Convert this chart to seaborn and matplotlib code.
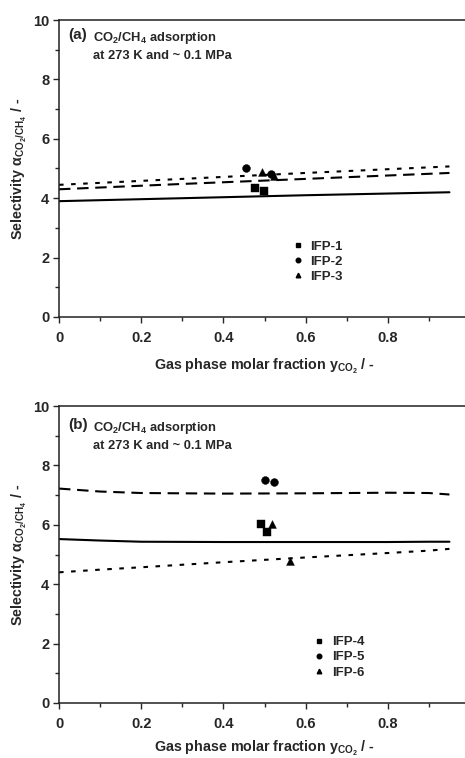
import numpy as np
import matplotlib
matplotlib.use("Agg")
import matplotlib.pyplot as plt
import seaborn as sns

sns.set_style("ticks")
plt.rcParams['font.family'] = ['Liberation Sans', 'DejaVu Sans']
plt.rcParams['font.weight'] = 'bold'
plt.rcParams['mathtext.fontset'] = 'custom'
plt.rcParams['mathtext.rm'] = 'Liberation Sans:bold'
plt.rcParams['mathtext.it'] = 'Liberation Sans:bold'
plt.rcParams['mathtext.bf'] = 'Liberation Sans:bold'

# panel (a) model curves
xa_line = [0.0, 0.3, 0.6, 0.95]
a_solid = [3.9, 4.0, 4.1, 4.2]
a_dash = [4.3, 4.48, 4.65, 4.85]
a_dot = [4.45, 4.65, 4.85, 5.07]
# panel (a) experimental points
ifp1_x = [0.478, 0.498]
ifp1_y = [4.34, 4.24]
ifp2_x = [0.454, 0.515]
ifp2_y = [5.02, 4.82]
ifp3_x = [0.493, 0.522]
ifp3_y = [4.88, 4.76]

# panel (b) model curves
xb_line = [0.0, 0.1, 0.2, 0.4, 0.6, 0.8, 0.9, 0.95]
b_dash = [7.22, 7.12, 7.07, 7.05, 7.06, 7.08, 7.07, 7.02]
b_solid = [5.52, 5.47, 5.43, 5.42, 5.42, 5.42, 5.43, 5.43]
b_dot = [4.4, 4.49, 4.57, 4.74, 4.9, 5.05, 5.13, 5.19]
# panel (b) experimental points
ifp4_x = [0.492, 0.507]
ifp4_y = [6.03, 5.76]
ifp5_x = [0.502, 0.524]
ifp5_y = [7.51, 7.44]
ifp6_x = [0.519, 0.561]
ifp6_y = [6.03, 4.78]

fig = plt.figure(figsize=(4.65, 7.58), dpi=100)
W, H = 465, 758


def make_ax(top_px, bottom_px):
    return fig.add_axes([59 / W, (H - bottom_px) / H, (470 - 59) / W, (bottom_px - top_px) / H])


def style_ax(ax, tag, tag_y, xpad):
    ax.set_xlim(0, 1.0)
    ax.set_ylim(0, 10)
    ax.set_xticks([0, 0.2, 0.4, 0.6, 0.8])
    ax.set_xticklabels(['0', '0.2', '0.4', '0.6', '0.8'])
    ax.set_xticks(np.arange(0.1, 1.0, 0.2), minor=True)
    ax.set_yticks([0, 2, 4, 6, 8, 10])
    ax.set_yticks([1, 3, 5, 7, 9], minor=True)
    ax.tick_params(which='major', direction='out', length=4, width=1, labelsize=10.5)
    ax.tick_params(axis='x', which='major', pad=6)
    ax.tick_params(axis='y', which='major', pad=3)
    ax.tick_params(which='minor', direction='out', length=3, width=1)
    for s in ax.spines.values():
        s.set_linewidth(1.1)
        s.set_color('#222222')
    ax.set_xlabel(r'Gas phase molar fraction y$_{\mathregular{CO_2}}$ / -', fontsize=10.3,
                  fontweight='bold', labelpad=xpad)
    ax.set_ylabel(r'Selectivity $\mathregular{\alpha_{CO_2/CH_4}}$ / -', fontsize=10.3,
                  fontweight='bold', labelpad=3)
    ax.text(0.022, tag_y, tag, transform=ax.transAxes, fontsize=11, fontweight='bold',
            va='top', ha='left')
    ax.text(0.083, tag_y - 0.006, r'CO$_2$/CH$_4$ adsorption' + '\nat 273 K and ~ 0.1 MPa',
            transform=ax.transAxes, fontsize=9.3, fontweight='bold', va='top', ha='left',
            linespacing=1.4)


def draw(ax, xl, solid, dash, dot, pts, labels, legend_xy):
    sns.lineplot(x=xl, y=solid, ax=ax, color='black', lw=1.5)
    l2 = sns.lineplot(x=xl, y=dash, ax=ax, color='black', lw=1.5).lines[-1]
    l2.set_dashes((5.5, 3.2))
    l3 = sns.lineplot(x=xl, y=dot, ax=ax, color='black', lw=1.5).lines[-1]
    l3.set_dashes((2.2, 3.6))
    markers = ['s', 'o', '^']
    handles = []
    for (px, py), m, lab in zip(pts, markers, labels):
        sns.scatterplot(x=px, y=py, ax=ax, marker=m, color='black', s=32,
                        edgecolor='black', linewidth=0.3, zorder=5)
        h = plt.Line2D([], [], ls='none', marker=m, color='black', markersize=3.3, label=lab)
        handles.append(h)
    ax.legend(handles=handles, loc='center left', bbox_to_anchor=legend_xy, frameon=False,
              handletextpad=0.45, labelspacing=0.22, handlelength=1.0,
              borderpad=0, borderaxespad=0, prop={'weight': 'bold', 'size': 9.5})


ax1 = make_ax(20, 317)
draw(ax1, xa_line, a_solid, a_dash, a_dot,
     [(ifp1_x, ifp1_y), (ifp2_x, ifp2_y), (ifp3_x, ifp3_y)],
     ['IFP-1', 'IFP-2', 'IFP-3'], (0.565, 0.186))
style_ax(ax1, '(a)', 0.972, 9)

ax2 = make_ax(406, 703)
draw(ax2, xb_line, b_solid, b_dash, b_dot,
     [(ifp4_x, ifp4_y), (ifp5_x, ifp5_y), (ifp6_x, ifp6_y)],
     ['IFP-4', 'IFP-5', 'IFP-6'], (0.617, 0.154))
style_ax(ax2, '(b)', 0.958, 6)

fig.savefig('out.png', dpi=100)
